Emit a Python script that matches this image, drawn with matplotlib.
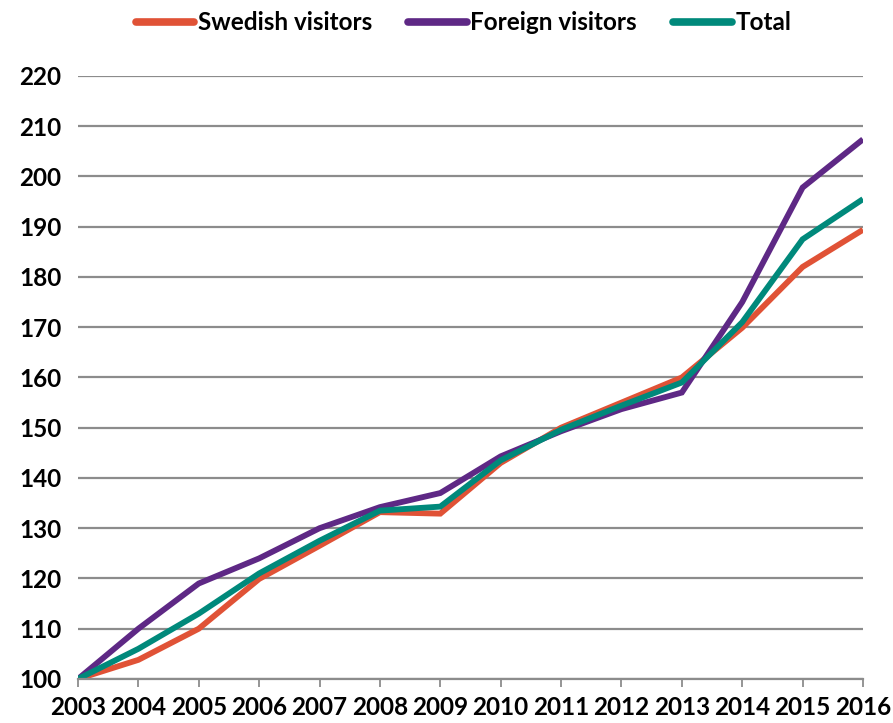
import matplotlib
matplotlib.use("Agg")
import matplotlib.pyplot as plt

years = list(range(2003, 2017))
swedish = [100, 103.8, 110, 119.9, 126.5, 133.2, 132.9, 143, 150, 155, 160, 169.9, 182, 189.4]
foreign = [100, 110, 119, 124, 130, 134.2, 137, 144.3, 149.3, 153.7, 157, 175, 197.8, 207.4]
total = [100, 106, 113, 121, 127.5, 133.5, 134.3, 143.5, 149.6, 154.4, 159, 171, 187.5, 195.5]
series = [("Swedish visitors", swedish, "#e05236"),
          ("Foreign visitors", foreign, "#5e2885"),
          ("Total", total, "#00897b")]
yticks = list(range(100, 230, 10))

plt.rcParams["font.family"] = ["Lato", "DejaVu Sans"]
fig = plt.figure(figsize=(8.93, 7.23), dpi=100)
ax = fig.add_axes([0.0873, 0.0609, 0.9664 - 0.0873, 0.8949 - 0.0609])

for name, vals, col in series:
    ax.plot(years, vals, color=col, lw=4.2, label=name, solid_capstyle="butt",
            solid_joinstyle="miter")

ax.set_xlim(2003, 2016)
ax.set_ylim(100, 220)
ax.set_yticks(yticks)
ax.set_xticks(years)
ax.grid(axis="y", color="#8c8c8c", lw=1.6)
ax.set_axisbelow(True)
for s in ["top", "right", "left"]:
    ax.spines[s].set_visible(False)
ax.spines["bottom"].set_color("#8c8c8c")
ax.spines["bottom"].set_linewidth(1.6)
ax.tick_params(axis="y", length=0, pad=12, labelsize=17.5)
ax.tick_params(axis="x", length=6, width=1.3, color="#8c8c8c", pad=6, labelsize=17.5)
for t in ax.get_xticklabels() + ax.get_yticklabels():
    t.set_fontweight("bold")

leg = fig.legend(loc="upper center", bbox_to_anchor=(0.519, 1.015), ncol=3, frameon=False,
                 prop={"size": 17.5, "weight": "bold"}, handlelength=2.4, handletextpad=0.15,
                 columnspacing=1.5)
for h in leg.get_lines():
    h.set_linewidth(5.5)
    h.set_solid_capstyle("round")

fig.savefig("out.png", dpi=100)
